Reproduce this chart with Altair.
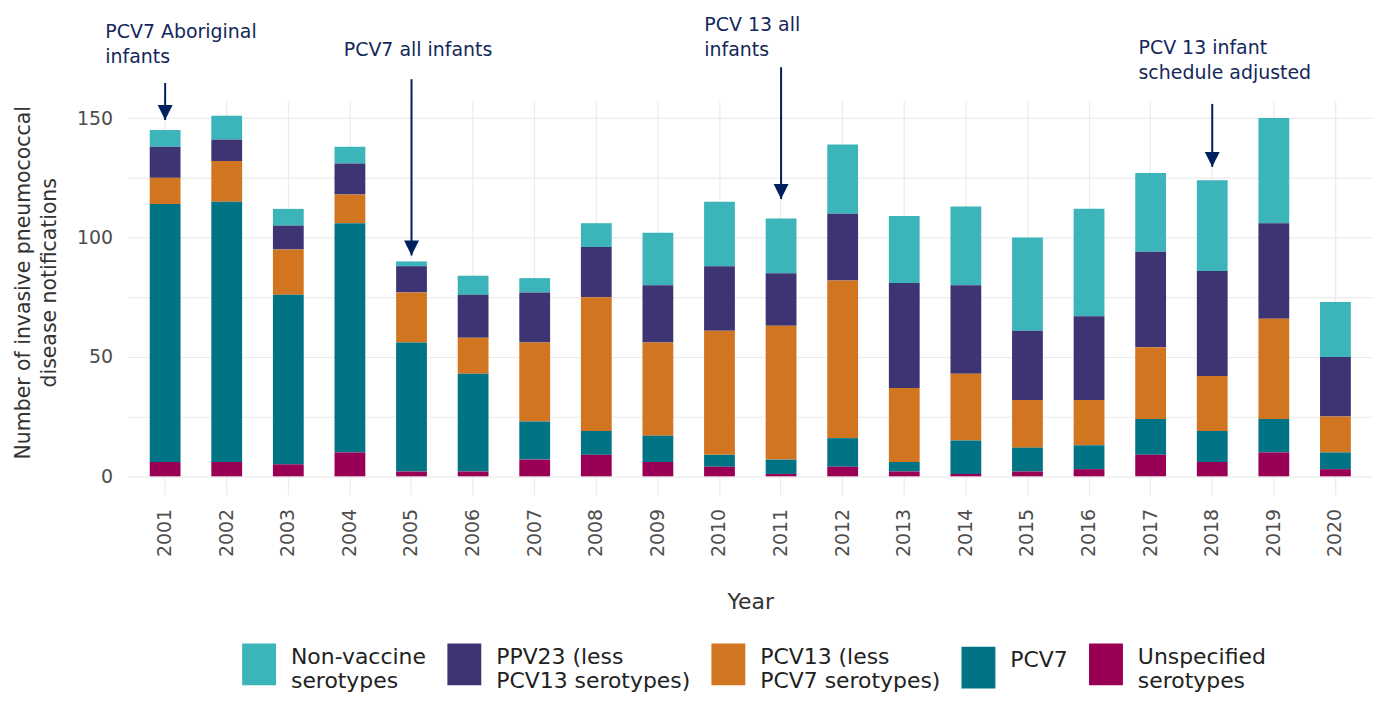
import altair as alt
import pandas as pd

years = [str(y) for y in range(2001, 2021)]
series = ["Non-vaccine\nserotypes", "PPV23 (less\nPCV13 serotypes)", "PCV13 (less\nPCV7 serotypes)",
          "PCV7", "Unspecified\nserotypes"]
colors = ["#3BB5BA", "#3D3474", "#D27520", "#007385", "#990055"]

unspecified = [6, 6, 5, 10, 2, 2, 7, 9, 6, 4, 1, 4, 2, 1, 2, 3, 9, 6, 10, 3]
pcv7 = [108, 109, 71, 96, 54, 41, 16, 10, 11, 5, 6, 12, 4, 14, 10, 10, 15, 13, 14, 7]
pcv13 = [11, 17, 19, 12, 21, 15, 33, 56, 39, 52, 56, 66, 31, 28, 20, 19, 30, 23, 42, 15]
ppv23 = [13, 9, 10, 13, 11, 18, 21, 21, 24, 27, 22, 28, 44, 37, 29, 35, 40, 44, 40, 25]
nonvaccine = [7, 10, 7, 7, 2, 8, 6, 10, 22, 27, 23, 29, 28, 33, 39, 45, 33, 38, 44, 23]

ann_years = ["2001", "2005", "2011", "2018"]
ann_texts = ["PCV7 Aboriginal\ninfants", "PCV7 all infants", "PCV 13 all\ninfants",
             "PCV 13 infant\nschedule adjusted"]
ann_text_y = [183.4, 175.9, 186.4, 176.8]
ann_arrow_top = [164.7, 166.3, 171.3, 155.9]
ann_arrow_tip = [149.2, 92.5, 116.1, 129.6]
ann_dx = [-60, -68, -77, -74]

y_ticks = [0, 25, 50, 75, 100, 125, 150]

values_by_series = [nonvaccine, ppv23, pcv13, pcv7, unspecified]
rows = []
for s_i, (name, vals) in enumerate(zip(series, values_by_series)):
    for yr, v in zip(years, vals):
        rows.append({"Year": yr, "serotype": name, "value": v, "stack_order": 4 - s_i})
df = pd.DataFrame(rows)

ann = pd.DataFrame({"Year": ann_years, "text": ann_texts, "ty": ann_text_y,
                    "top": ann_arrow_top, "tip": ann_arrow_tip, "idx": list(range(4))})

FONT = "DejaVu Sans"
NAVY = "#002060"
yscale = alt.Scale(domain=[-7.6, 157.2], nice=False, zero=False)
xscale = alt.Scale(paddingInner=0.5, paddingOuter=0.36)

x_enc = alt.X("Year:N", sort=years, scale=xscale, axis=alt.Axis(
    title="Year", labelAngle=270, labelFontSize=19, labelColor="#4D4D4D", labelPadding=14,
    labelFont=FONT, ticks=False, tickSize=0, domain=False, grid=True, gridColor="#EBEBEB",
    gridWidth=1.2, bandPosition=0.5, titleFontSize=22, titleColor="#333333",
    titleFontWeight="normal", titleFont=FONT, titlePadding=35, labelAlign="right",
    labelBaseline="middle"))

bars = alt.Chart(df).mark_bar().encode(
    x=x_enc,
    y=alt.Y("value:Q", stack="zero", scale=yscale, axis=alt.Axis(
        title=["Number of invasive pneumococcal", "disease notifications"],
        values=y_ticks, labelExpr="datum.value % 50 === 0 ? datum.label : ''",
        labelFontSize=19, labelColor="#4D4D4D", labelPadding=15, labelFont=FONT,
        ticks=False, tickSize=0, domain=False, grid=True, gridColor="#EBEBEB", gridWidth=1.2,
        titleFontSize=20.5, titleLineHeight=26, titleFontWeight="normal", titleColor="#333333",
        titleFont=FONT, titlePadding=17, titleY=182)),
    color=alt.Color("serotype:N", scale=alt.Scale(domain=series, range=colors), legend=alt.Legend(
        title=None, orient="none", legendX=115, legendY=541, direction="horizontal", columns=5,
        symbolType="M-1,-0.795H1V1.675H-1Z", symbolSize=1156, symbolStrokeWidth=0,
        symbolOpacity=1, labelFontSize=22, labelFont=FONT, labelColor="#222222",
        labelExpr="split(datum.label, '\\n')", labelLimit=0, labelOffset=15, columnPadding=21)),
    order=alt.Order("stack_order:Q", sort="ascending"),
)

rules = alt.Chart(ann).mark_rule(color=NAVY, strokeWidth=2).encode(
    x=alt.X("Year:N", sort=years, scale=xscale),
    y=alt.Y("top:Q", scale=yscale),
    y2="tip:Q",
)

heads = alt.Chart(ann).mark_point(shape="M-1,-2L1,-2L0,0Z", filled=True, size=225,
                                   color=NAVY, opacity=1, strokeWidth=0).encode(
    x=alt.X("Year:N", sort=years, scale=xscale),
    y=alt.Y("tip:Q", scale=yscale),
)

texts = []
for i in range(4):
    texts.append(alt.Chart(ann).transform_filter(f"datum.idx == {i}").mark_text(
        align="left", baseline="alphabetic", dx=ann_dx[i], fontSize=19, font=FONT,
        color="#14285A", lineBreak="\n", lineHeight=25).encode(
        x=alt.X("Year:N", sort=years, scale=xscale),
        y=alt.Y("ty:Q", scale=yscale),
        text="text:N",
    ))

chart = alt.layer(bars, rules, heads, *texts).properties(
    width=1250, height=395,
    autosize=alt.AutoSizeParams(type="none"),
    padding={"left": 120, "top": 92, "right": 0, "bottom": 199},
).configure_view(stroke=None)

chart.save("out.html", embed_options={"renderer": "svg", "actions": False})
